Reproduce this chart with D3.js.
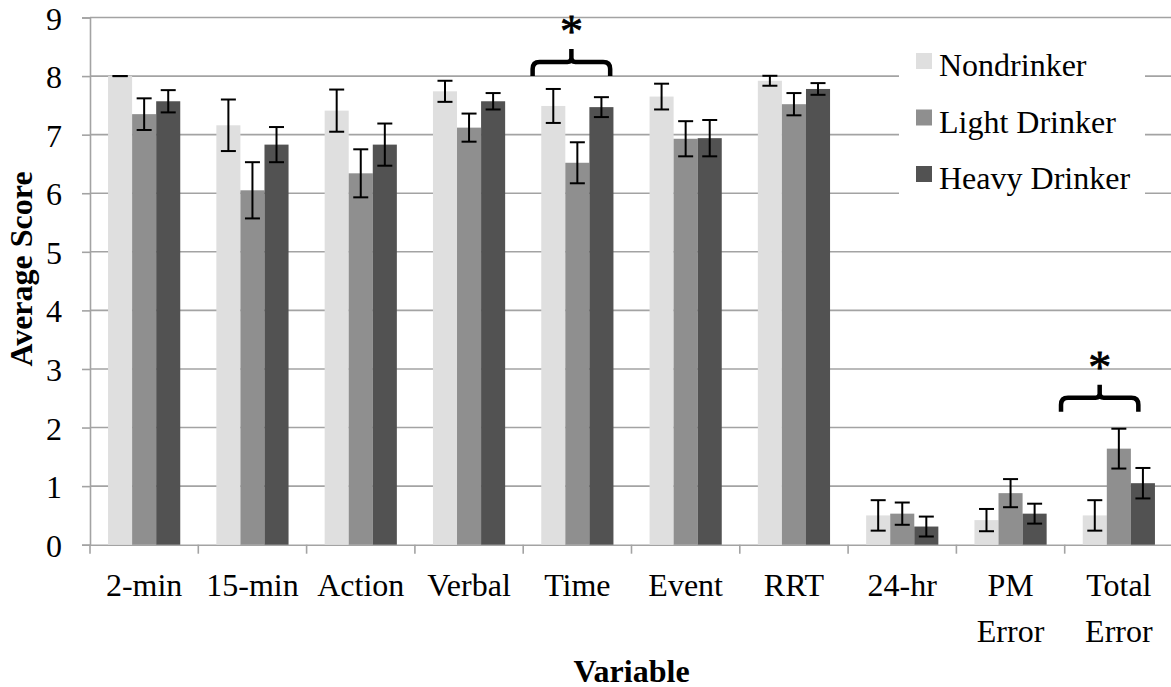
<!DOCTYPE html>
<html>
<head>
<meta charset="utf-8">
<script src="https://cdn.jsdelivr.net/npm/d3@7/dist/d3.min.js"></script>
<style>
  html, body { margin: 0; padding: 0; background: #fff; }
  svg { display: block; font-family: "Liberation Serif", "Times New Roman", serif; }
  svg text { font-family: "Liberation Serif", "Times New Roman", serif; }
</style>
</head>
<body>
<svg id="chart" width="1171" height="687"></svg>
<script>
// ---- data ----
const categories = [["2-min"], ["15-min"], ["Action"], ["Verbal"], ["Time"], ["Event"], ["RRT"], ["24-hr"], ["PM", "Error"], ["Total", "Error"]];
const series = ["Nondrinker", "Light Drinker", "Heavy Drinker"];
const nondrinker = [8.00, 7.16, 7.41, 7.74, 7.49, 7.65, 7.92, 0.50, 0.42, 0.50];
const lightDrinker = [7.35, 6.05, 6.34, 7.12, 6.52, 6.93, 7.52, 0.53, 0.88, 1.64];
const heavyDrinker = [7.57, 6.83, 6.83, 7.57, 7.47, 6.94, 7.78, 0.31, 0.53, 1.05];
const nondrinkerErr = [0.00, 0.44, 0.36, 0.18, 0.29, 0.22, 0.085, 0.26, 0.19, 0.26];
const lightDrinkerErr = [0.27, 0.48, 0.41, 0.24, 0.35, 0.30, 0.19, 0.19, 0.24, 0.34];
const heavyDrinkerErr = [0.19, 0.30, 0.36, 0.14, 0.17, 0.31, 0.10, 0.17, 0.17, 0.26];
const yTicks = [0, 1, 2, 3, 4, 5, 6, 7, 8, 9];
const colors = ["#dfdfdf", "#8f8f8f", "#525252"];
// significance annotations: category index, value at brace bottom, start/end as fraction of band
const sigCategory = [4, 9];
const sigValue = [8.0, 2.27];
const sigFrom = [0.087, -0.034];
const sigTo = [0.803, 0.68];

const values = [nondrinker, lightDrinker, heavyDrinker];
const errors = [nondrinkerErr, lightDrinkerErr, heavyDrinkerErr];

// ---- layout ----
const svg = d3.select("#chart");
const mLeft = 90, mRight = 1173, mTop = 17.5, mBottom = 544.7;
const FS = 32;
const FF = "Liberation Serif, Times New Roman, serif";

const catKeys = categories.map(c => c.join(" "));
const x0 = d3.scaleBand().domain(catKeys).range([mLeft, mRight]).paddingInner(0).paddingOuter(0);
const bw = x0.bandwidth();
const x1 = d3.scaleBand().domain(series).range([bw * 0.75 / 4.5, bw - bw * 0.75 / 4.5]).padding(0);
const y = d3.scaleLinear().domain([0, 9]).range([mBottom, mTop]);

const gridColor = "#a3a3a3";

// grid lines
svg.append("g").selectAll("line").data(yTicks.filter(t => t > 0)).join("line")
  .attr("x1", mLeft).attr("x2", mRight)
  .attr("y1", d => y(d)).attr("y2", d => y(d))
  .attr("stroke", gridColor).attr("stroke-width", 1.6);

// y axis
const yAxis = svg.append("g").attr("transform", `translate(${mLeft},0)`)
  .call(d3.axisLeft(y).tickValues(yTicks).tickSize(8).tickPadding(20).tickFormat(d3.format("d")));
yAxis.attr("font-family", FF);
yAxis.select(".domain").attr("stroke", gridColor).attr("stroke-width", 1.6);
yAxis.selectAll(".tick line").attr("stroke", gridColor).attr("stroke-width", 1.6);
yAxis.selectAll(".tick text").attr("font-size", FS).attr("font-family", FF).attr("fill", "#000")
  .attr("dy", "0.36em");

// x axis
const xAxis = svg.append("g").attr("transform", `translate(0,${mBottom})`)
  .call(d3.axisBottom(x0).tickSize(0).tickFormat(""));
xAxis.select(".domain").attr("stroke", gridColor).attr("stroke-width", 1.6);
xAxis.selectAll(".tick").remove();
// boundary ticks
const bounds = catKeys.map(k => x0(k)).concat([mRight]);
xAxis.append("g").selectAll("line").data(bounds).join("line")
  .attr("x1", d => d).attr("x2", d => d).attr("y1", 0).attr("y2", 9)
  .attr("stroke", gridColor).attr("stroke-width", 1.6);
// labels
const lab = svg.append("g").selectAll("text").data(categories).join("text")
  .attr("x", (d, i) => x0(catKeys[i]) + bw / 2)
  .attr("y", 596)
  .attr("text-anchor", "middle").attr("font-size", FS).attr("font-family", FF).attr("fill", "#000");
lab.selectAll("tspan").data(d => d).join("tspan")
  .attr("x", function () { return d3.select(this.parentNode).attr("x"); })
  .attr("dy", (d, i) => i === 0 ? 0 : 45.7)
  .text(d => d);

// bars
const groups = svg.append("g").selectAll("g").data(catKeys).join("g")
  .attr("transform", d => `translate(${x0(d)},0)`);
groups.selectAll("rect").data((d, i) => series.map((s, j) => ({ s, j, v: values[j][i] }))).join("rect")
  .attr("x", d => x1(d.s)).attr("width", x1.bandwidth())
  .attr("y", d => y(d.v)).attr("height", d => y(0) - y(d.v))
  .attr("fill", d => colors[d.j]);

// error bars
const capW = 15;
const eb = groups.selectAll("g.err").data((d, i) => series.map((s, j) => ({ s, j, v: values[j][i], e: errors[j][i] }))).join("g")
  .attr("class", "err")
  .attr("transform", d => `translate(${x1(d.s) + x1.bandwidth() / 2},0)`);
eb.append("line").attr("x1", 0).attr("x2", 0)
  .attr("y1", d => y(d.v + d.e)).attr("y2", d => y(d.v - d.e))
  .attr("stroke", "#000").attr("stroke-width", 2);
eb.append("line").attr("x1", -capW / 2).attr("x2", capW / 2)
  .attr("y1", d => y(d.v + d.e)).attr("y2", d => y(d.v + d.e))
  .attr("stroke", "#000").attr("stroke-width", 2);
eb.append("line").attr("x1", -capW / 2).attr("x2", capW / 2)
  .attr("y1", d => y(d.v - d.e)).attr("y2", d => y(d.v - d.e))
  .attr("stroke", "#000").attr("stroke-width", 2);

// significance braces
sigCategory.forEach((ci, k) => {
  const bx = x0(catKeys[ci]);
  const xa = bx + sigFrom[k] * bw, xb = bx + sigTo[k] * bw, xc = (xa + xb) / 2;
  const yb = y(sigValue[k]);
  const yh = yb - 14, yt = yb - 27, r = 7;
  const p = d3.path();
  p.moveTo(xa, yb); p.lineTo(xa, yh + r); p.quadraticCurveTo(xa, yh, xa + r, yh);
  p.lineTo(xc - 4, yh); p.quadraticCurveTo(xc, yh, xc, yh - 4); p.lineTo(xc, yt);
  p.moveTo(xc, yh - 4); p.quadraticCurveTo(xc, yh, xc + 4, yh);
  p.lineTo(xb - r, yh); p.quadraticCurveTo(xb, yh, xb, yh + r); p.lineTo(xb, yb);
  svg.append("path").attr("d", p.toString()).attr("fill", "none")
    .attr("stroke", "#000").attr("stroke-width", 4.5);
  svg.append("text").attr("x", xc).attr("y", yt - 1.7).attr("text-anchor", "middle")
    .attr("font-size", 46).attr("font-family", FF).attr("stroke", "#000").attr("stroke-width", 0.8)
    .attr("fill", "#000").text("*");
});

// legend
const lg = svg.append("g");
lg.append("rect").attr("x", 899).attr("y", 38).attr("width", 246).attr("height", 194).attr("fill", "#fff");
const li = lg.selectAll("g").data(series).join("g")
  .attr("transform", (d, i) => `translate(916,${53 + i * 56.5})`);
li.append("rect").attr("width", 16).attr("height", 16).attr("fill", (d, i) => colors[i]);
li.append("text").attr("x", 23).attr("y", 23).attr("font-size", FS).attr("font-family", FF).attr("fill", "#000").text(d => d);

// axis titles
svg.append("text").attr("x", (mLeft + mRight) / 2).attr("y", 681.5).attr("text-anchor", "middle")
  .attr("font-size", FS).attr("font-family", FF).attr("font-weight", "bold").attr("fill", "#000").text("Variable");
svg.append("text").attr("transform", "translate(32,269) rotate(-90)").attr("text-anchor", "middle")
  .attr("font-size", FS).attr("font-family", FF).attr("font-weight", "bold").attr("fill", "#000").text("Average Score");
</script>
</body>
</html>
